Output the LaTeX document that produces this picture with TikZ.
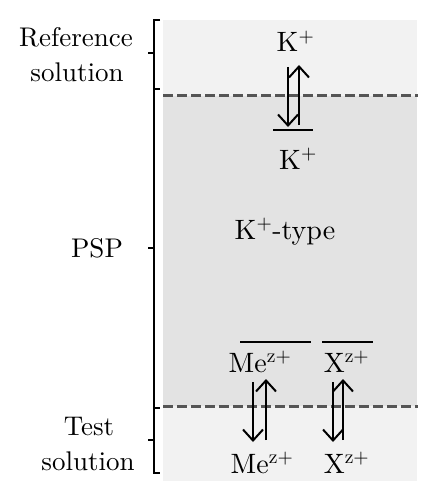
\documentclass[tikz,border=0pt]{standalone}
\usepackage{fontspec}
\setmainfont{lmroman10-regular.otf}
\usetikzlibrary{arrows.meta}
\definecolor{lightbg}{RGB}{242,242,242}
\definecolor{darkbg}{RGB}{227,227,227}
\definecolor{dashc}{RGB}{85,85,85}
\begin{document}
\begin{tikzpicture}[x=1pt,y=-1pt,
  lbl/.style={font=\fontsize{27}{32}\selectfont, anchor=base, inner sep=0pt},
  ion/.style={font=\fontsize{28}{32}\selectfont, anchor=base, inner sep=0pt},
  eq/.style={line width=2pt, -{Straight Barb[length=11pt,width=20pt]}},
  overbar/.style={line width=2pt},
  sep/.style={line width=3pt, dashc, dash pattern=on 9.5pt off 4.5pt},
  brk/.style={line width=1.5pt}]
\useasboundingbox (0,0) rectangle (437,500);
% regions
\fill[lightbg] (163,20) rectangle (417,481);
\fill[darkbg] (163,96) rectangle (417,406);
\draw[sep] (163,96) -- (418,96);
\draw[sep] (163,406) -- (418,406);
% brackets
\draw[brk] (160,20) -- (154,20) -- (154,473) -- (160,473);
\draw[brk] (154,89) -- (160,89);
\draw[brk] (154,408) -- (160,408);
\draw[brk] (148,53) -- (154,53);
\draw[brk] (148,248) -- (154,248);
\draw[brk] (148,440) -- (154,440);
% left labels
\node[lbl] (ref1) at (76,47) {Reference};
\node[lbl] (ref2) at (77,82) {solution};
\node[lbl] (psp) at (97,257) {PSP};
\node[lbl] (test1) at (89,435) {Test};
\node[lbl] (test2) at (88,470) {solution};
% ions
\node[ion] (ktop) at (295.5,52) {K\textsuperscript{+}};
\node[ion] (kbot) at (298,169) {K\textsuperscript{+}};
\node[ion] (ktype) at (285,239) {K\textsuperscript{+}-type};
\node[ion] (metop) at (260,372) {Me\textsuperscript{z+}};
\node[ion] (xtop) at (346.5,372) {X\textsuperscript{z+}};
\node[ion] (mebot) at (262,473) {Me\textsuperscript{z+}};
\node[ion] (xbot) at (346.5,473) {X\textsuperscript{z+}};
% overbars
\draw[overbar] (273,130) -- (313,130);
\draw[overbar] (240,342) -- (311,342);
\draw[overbar] (322,342) -- (373,342);
% equilibrium arrows
\coordinate (k1a) at (288,67);  \coordinate (k1b) at (288,127);
\coordinate (k2a) at (299,125); \coordinate (k2b) at (299,65);
\coordinate (m1a) at (253,382); \coordinate (m1b) at (253,442);
\coordinate (m2a) at (266,440); \coordinate (m2b) at (266,379);
\coordinate (x1a) at (333,382); \coordinate (x1b) at (333,442);
\coordinate (x2a) at (343,440); \coordinate (x2b) at (343,379);
\draw[eq] (k1a) -- (k1b);
\draw[eq] (k2a) -- (k2b);
\draw[eq] (m1a) -- (m1b);
\draw[eq] (m2a) -- (m2b);
\draw[eq] (x1a) -- (x1b);
\draw[eq] (x2a) -- (x2b);
\end{tikzpicture}
\end{document}
